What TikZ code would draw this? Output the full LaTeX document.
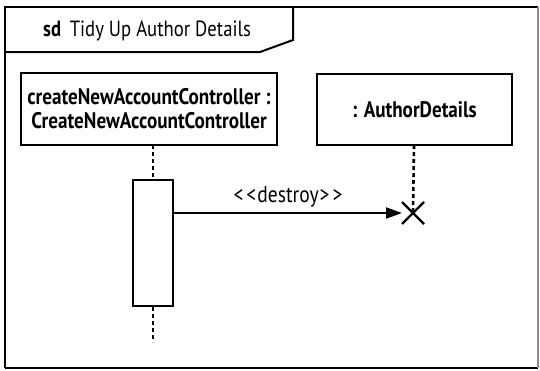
\documentclass[tikz,border=0pt]{standalone}
\usepackage{fontspec}
\setmainfont{PT Sans}[FakeStretch=0.85]
\usetikzlibrary{arrows.meta}
\begin{document}
\begin{tikzpicture}[x=1pt,y=-1pt,
  objbox/.style={draw,line width=2pt,inner sep=0pt,font=\bfseries\fontsize{22.5}{24}\selectfont,align=center},
  lifeline/.style={line width=2.6pt,dash pattern=on 4pt off 3pt},
  actbox/.style={draw,line width=2pt,fill=white,inner sep=0pt,minimum width=40pt,minimum height=126pt},
  msg/.style={line width=2pt,-{Triangle[length=16pt,width=11pt]}},
  destroyx/.style={line width=2.4pt}]
\useasboundingbox (0,0) rectangle (540,370);
\fill[white] (0,0) rectangle (540,370);
% frame
\draw[line width=2pt] (5,368) -- (5,7) -- (538,7);
\draw[line width=2pt] (5,368) -- (538,368);
\draw[line width=1.2pt,black!45] (538,7) -- (538,368);
\draw[line width=2pt] (5,52) -- (260,52) -- (293,40) -- (293,7);
\node[anchor=west,font=\fontsize{22}{24}\selectfont,inner sep=0pt] (title) at (43,31) {\textbf{sd}\, Tidy Up Author Details};
% objects
\node[objbox,minimum width=256pt,minimum height=72pt] (ctrl) at (149,109) {createNewAccountController :\\CreateNewAccountController};
\node[objbox,minimum width=195pt,minimum height=71pt] (auth) at (414.5,109.5) {: AuthorDetails};
% activation
\node[actbox] (act) at (153,243) {};
\coordinate (ctrlend) at (153,342);
\coordinate (xpt) at (413,213);
\draw[lifeline] (153,145) -- (act.north);
\draw[lifeline] (act.south) -- (ctrlend);
\draw[lifeline] (414,145) -- (xpt);
% message
\draw[msg] (act.east |- xpt) -- node[above=1pt,font=\fontsize{23}{24}\selectfont] (lbl) {<\hspace{3pt}<\hspace{1pt}destroy\hspace{1pt}>\hspace{3pt}>} ([xshift=-11pt]xpt);
\draw[destroyx] ([shift={(-11,-11)}]xpt) -- ([shift={(11,11)}]xpt);
\draw[destroyx] ([shift={(-11,11)}]xpt) -- ([shift={(11,-11)}]xpt);
\end{tikzpicture}
\end{document}
